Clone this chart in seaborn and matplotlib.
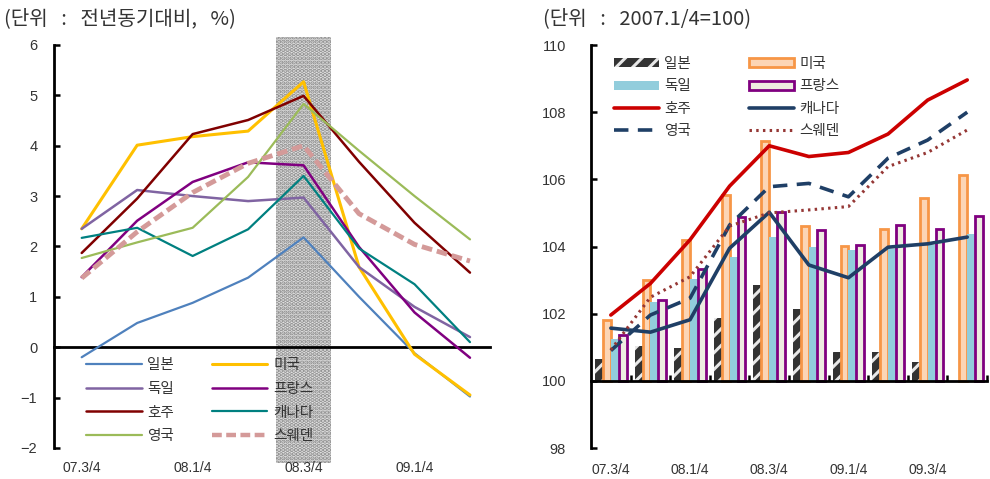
import numpy as np
import pandas as pd
import matplotlib
matplotlib.use("Agg")
import matplotlib.pyplot as plt
import seaborn as sns
from matplotlib.patches import Patch
from matplotlib.lines import Line2D

# ---------------- data ----------------
countries = ["일본", "미국", "독일", "프랑스", "호주", "캐나다", "영국", "스웨덴"]

# left chart: year-on-year growth (%)
quarters_left = ["07.3/4", "07.4/4", "08.1/4", "08.2/4", "08.3/4", "08.4/4", "09.1/4", "09.2/4"]
jp_left = [-0.20, 0.48, 0.88, 1.38, 2.18, 1.00, -0.12, -0.98]
us_left = [2.35, 4.01, 4.18, 4.29, 5.27, 1.59, -0.14, -0.95]
de_left = [2.35, 3.12, 3.00, 2.90, 2.97, 1.59, 0.80, 0.20]
fr_left = [1.39, 2.51, 3.28, 3.67, 3.61, 1.99, 0.69, -0.21]
au_left = [1.87, 2.95, 4.23, 4.51, 4.99, 3.68, 2.47, 1.48]
ca_left = [2.17, 2.37, 1.81, 2.34, 3.40, 1.96, 1.25, 0.10]
uk_left = [1.77, 2.08, 2.37, 3.38, 4.83, 3.90, 3.00, 2.14]
se_left = [1.37, 2.29, 3.07, 3.65, 4.00, 2.65, 2.04, 1.71]
left_ticklabels = ["07.3/4", "08.1/4", "08.3/4", "09.1/4"]
highlight_quarter = "08.3/4"

# right chart: index (2007.1/4 = 100)
quarters_right = ["07.3/4", "07.4/4", "08.1/4", "08.2/4", "08.3/4", "08.4/4",
                  "09.1/4", "09.2/4", "09.3/4", "09.4/4"]
jp_right = [100.65, 101.05, 100.99, 101.88, 102.86, 102.14, 100.87, 100.87, 100.57, np.nan]
us_right = [101.80, 103.00, 104.18, 105.52, 107.14, 104.61, 104.02, 104.51, 105.44, 106.13]
de_right = [101.25, 102.36, 103.03, 103.70, 104.28, 103.98, 103.90, 103.92, 104.05, 104.37]
fr_right = [101.37, 102.41, 103.32, 104.87, 105.03, 104.49, 104.05, 104.64, 104.51, 104.91]
au_right = [101.96, 102.90, 104.20, 105.80, 107.00, 106.68, 106.80, 107.35, 108.36, 108.96]
ca_right = [101.57, 101.45, 101.82, 103.95, 105.02, 103.45, 103.07, 103.98, 104.08, 104.28]
uk_right = [100.90, 101.96, 102.46, 104.64, 105.78, 105.88, 105.48, 106.63, 107.17, 108.00]
se_right = [100.92, 102.49, 103.10, 104.61, 105.00, 105.09, 105.19, 106.38, 106.80, 107.47]
right_ticklabels = ["07.3/4", "08.1/4", "08.3/4", "09.1/4", "09.3/4"]
BASE = 100

title_left = "(단위   :   전년동기대비,   %)"
title_right = "(단위   :   2007.1/4=100)"

# ---------------- style ----------------
sns.set_theme(style="white")
KFONT = ["Noto Sans CJK KR", "DejaVu Sans"]
NFONT = ["Liberation Sans", "DejaVu Sans"]
plt.rcParams["font.family"] = NFONT
plt.rcParams["axes.unicode_minus"] = True
plt.rcParams["hatch.linewidth"] = 2.2

fig = plt.figure(figsize=(9.9, 4.79), dpi=100)
axL = fig.add_axes([0.0545, 0.0334, 0.4404, 0.8885])
axR = fig.add_axes([0.597, 0.0647, 0.400, 0.8413])

# ---------------- left chart ----------------
xl = np.arange(len(quarters_left))
hi = quarters_left.index(highlight_quarter)
axL.axvspan(hi - 0.5, hi + 0.5, facecolor="#e2e2e2", edgecolor="#8c8c8c",
            hatch="....", lw=0, zorder=0)

left_styles = [
    ("일본", jp_left, "#4F81BD", 1.6, "-"),
    ("미국", us_left, "#FFC000", 2.2, "-"),
    ("독일", de_left, "#8064A2", 1.8, "-"),
    ("프랑스", fr_left, "#800080", 1.8, "-"),
    ("호주", au_left, "#800000", 1.8, "-"),
    ("캐나다", ca_left, "#008080", 1.6, "-"),
    ("영국", uk_left, "#9BBB59", 1.6, "-"),
    ("스웨덴", se_left, "#D49A99", 3.5, (0, (2.2, 1.0))),
]
handlesL = {}
for name, vals, col, lw, ls in left_styles:
    sns.lineplot(x=xl, y=vals, ax=axL, color=col, lw=lw, linestyle=ls, zorder=3)
    handlesL[name] = Line2D([], [], color=col, lw=lw if name != "스웨덴" else 3.2,
                            linestyle=ls)

axL.set_xlim(-0.5, 7.36)
axL.set_ylim(-2.3, 6.15)
axL.set_yticks(range(-2, 7))
axL.spines["right"].set_visible(False)
axL.spines["top"].set_visible(False)
axL.spines["left"].set_bounds(-2, 6)
axL.spines["bottom"].set_position(("data", 0))
for s in ("left", "bottom"):
    axL.spines[s].set_linewidth(2)
    axL.spines[s].set_color("black")
axL.set_xticks(np.arange(0.5, len(quarters_left) - 0.5, 1.0))
axL.set_xticklabels([])
axL.set_xticks([quarters_left.index(q) for q in left_ticklabels], minor=True)
axL.set_xticklabels(left_ticklabels, minor=True, fontsize=10, color="#333333")
axL.tick_params(axis="x", which="major", direction="in", length=5, width=1.8, color="black")
axL.tick_params(axis="x", which="minor", length=0, pad=82)
axL.tick_params(axis="y", direction="in", length=4, width=1.8, color="black",
                pad=12, labelsize=10.5, labelcolor="#333333", left=True)
axL.set_xlabel("")
axL.set_ylabel("")

order = ["일본", "독일", "호주", "영국", "미국", "프랑스", "캐나다", "스웨덴"]
legL = axL.legend([handlesL[n] for n in order], order, ncol=2, frameon=False,
                  loc="upper left", bbox_to_anchor=(0.087, 0.252),
                  bbox_transform=fig.transFigure, borderpad=0, borderaxespad=0,
                  handlelength=3.8, handletextpad=0.4, columnspacing=2.6,
                  labelspacing=0.66, prop={"family": KFONT, "size": 10.5})
for t in legL.get_texts():
    t.set_color("#333333")

fig.text(0.004, 0.962, title_left, family=KFONT, fontsize=14.5, color="#333333",
         va="center", ha="left")

# ---------------- right chart ----------------
bar_names = ["일본", "미국", "독일", "프랑스"]
bar_vals = [jp_right, us_right, de_right, fr_right]
rows = []
for n, vals in zip(bar_names, bar_vals):
    for q, v in zip(quarters_right, vals):
        rows.append({"q": q, "country": n, "h": v - BASE})
dfb = pd.DataFrame(rows)

bar_face = {"일본": "#333333", "미국": "#FCD5B5", "독일": "#92CDDC", "프랑스": "#EEECE1"}
sns.barplot(data=dfb, x="q", y="h", hue="country", hue_order=bar_names,
            order=quarters_right, palette=bar_face, ax=axR, width=0.8,
            errorbar=None, legend=False, bottom=BASE, saturation=1, zorder=2)

bar_edge = {"일본": ("#e8e8e8", 0, "//"), "미국": ("#F79646", 2.0, None),
            "독일": ("#92CDDC", 0, None), "프랑스": ("#800080", 2.0, None)}
for cont, n in zip(axR.containers, bar_names):
    ec, lw, hatch = bar_edge[n]
    for p in cont:
        p.set_edgecolor(ec)
        p.set_linewidth(lw)
        if hatch:
            p.set_hatch(hatch)

xr = np.arange(len(quarters_right))
line_styles = [
    ("호주", au_right, "#CC0000", 2.6, "-"),
    ("캐나다", ca_right, "#1F3F66", 2.6, "-"),
    ("영국", uk_right, "#1F3F66", 2.6, (0, (4, 2.6))),
    ("스웨덴", se_right, "#953735", 2.2, (0, (0.8, 1.4))),
]
handlesR = {
    "일본": Patch(facecolor="#333333", edgecolor="#e8e8e8", hatch="//", lw=0),
    "미국": Patch(facecolor="#FCD5B5", edgecolor="#F79646", lw=2),
    "독일": Patch(facecolor="#92CDDC", edgecolor="#92CDDC", lw=0),
    "프랑스": Patch(facecolor="#EEECE1", edgecolor="#800080", lw=2),
}
for name, vals, col, lw, ls in line_styles:
    sns.lineplot(x=xr, y=vals, ax=axR, color=col, lw=lw, linestyle=ls, zorder=4)
    handlesR[name] = Line2D([], [], color=col, lw=lw, linestyle=ls)

axR.set_xlim(-0.5, len(quarters_right) - 0.5)
axR.set_ylim(98, 110)
axR.set_yticks(range(98, 111, 2))
axR.spines["right"].set_visible(False)
axR.spines["top"].set_visible(False)
axR.spines["bottom"].set_position(("data", BASE))
for s in ("left", "bottom"):
    axR.spines[s].set_linewidth(2)
    axR.spines[s].set_color("black")
axR.set_xticks(np.arange(0.5, len(quarters_right) - 0.4, 1.0))
axR.set_xticklabels([])
axR.set_xticks([quarters_right.index(q) for q in right_ticklabels], minor=True)
axR.set_xticklabels(right_ticklabels, minor=True, fontsize=10, color="#333333")
axR.tick_params(axis="x", which="major", direction="in", length=4, width=1.8,
                color="black", bottom=True)
axR.tick_params(axis="x", which="minor", length=0, pad=59, bottom=True)
axR.tick_params(axis="y", direction="in", length=4, width=1.8, color="black",
                pad=18, labelsize=10.5, labelcolor="#333333", left=True)
axR.set_xlabel("")
axR.set_ylabel("")

legR = axR.legend([handlesR[n] for n in order], order, ncol=2, frameon=False,
                  loc="upper left", bbox_to_anchor=(0.62, 0.881),
                  bbox_transform=fig.transFigure, borderpad=0, borderaxespad=0,
                  handlelength=3.1, handleheight=0.55, handletextpad=0.35,
                  columnspacing=4.0, labelspacing=0.57,
                  prop={"family": KFONT, "size": 10.5})
for t in legR.get_texts():
    t.set_color("#333333")

fig.text(0.548, 0.962, title_right, family=KFONT, fontsize=14.5, color="#333333",
         va="center", ha="left")

fig.savefig("out.png", dpi=100)
